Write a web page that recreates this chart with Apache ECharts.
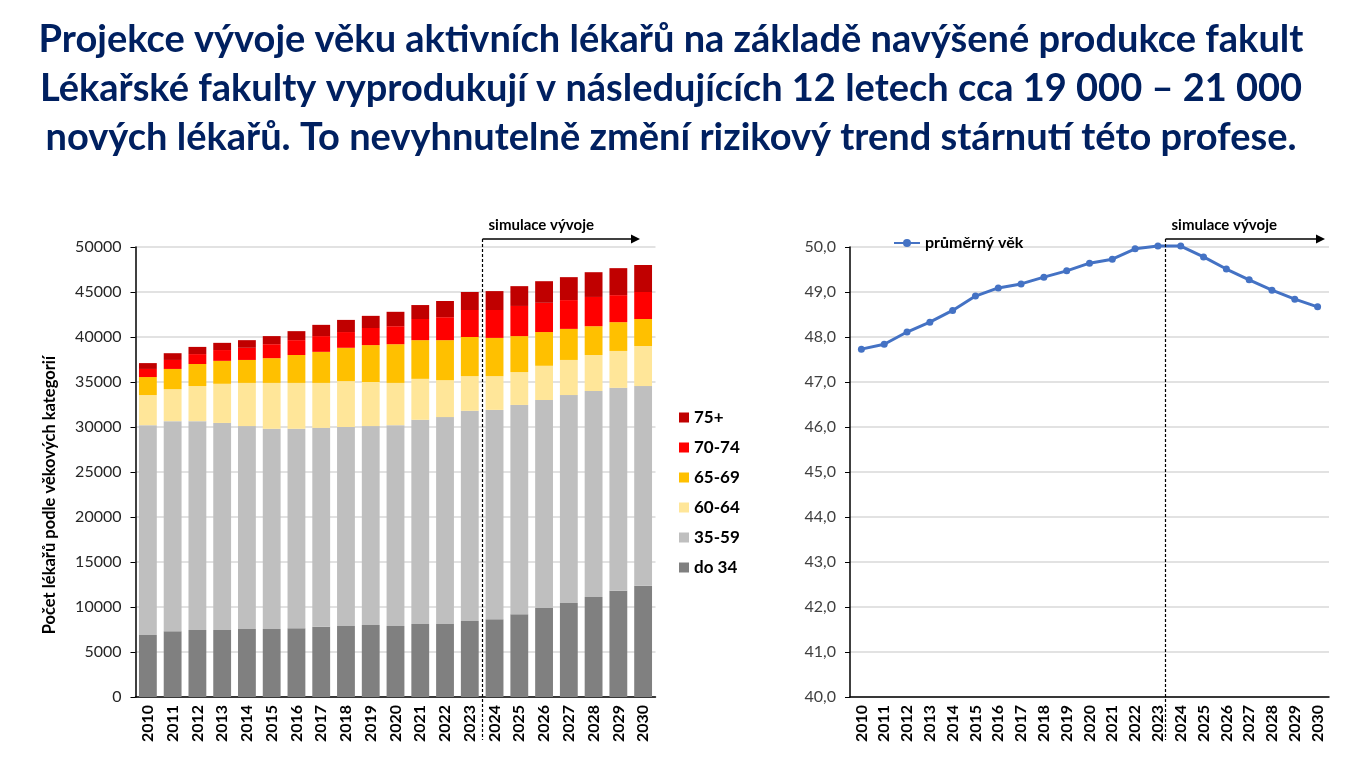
<!DOCTYPE html>
<html>
<head>
<meta charset="utf-8">
<script src="https://cdn.jsdelivr.net/npm/echarts@6/dist/echarts.min.js"></script>
<style>
html,body{margin:0;padding:0;background:#fff;}
#c{width:1368px;height:770px;}
</style>
</head>
<body>
<div id="c"></div>
<script>
const years = ['2010','2011','2012','2013','2014','2015','2016','2017','2018','2019','2020','2021','2022','2023','2024','2025','2026','2027','2028','2029','2030'];
const do34   = [6900,7300,7450,7450,7550,7550,7650,7800,7900,8000,7900,8100,8100,8450,8650,9200,9900,10450,11100,11800,12350];
const a35_59 = [23300,23350,23200,23000,22550,22250,22150,22100,22100,22100,22300,22700,23000,23350,23250,23250,23100,23100,22900,22550,22200];
const a60_64 = [3350,3550,3900,4350,4800,5100,5100,5000,5100,4900,4700,4550,4100,3850,3750,3650,3800,3900,4000,4100,4450];
const a65_69 = [2000,2250,2450,2550,2550,2750,3100,3450,3700,4100,4300,4300,4450,4350,4250,4000,3750,3450,3200,3200,3000];
const a70_74 = [900,1000,1100,1200,1350,1550,1650,1750,1750,1900,2000,2350,2550,3000,3100,3350,3250,3200,3250,3000,3000];
const a75    = [650,750,800,800,850,900,1000,1250,1350,1350,1600,1550,1800,2000,2100,2200,2400,2550,2750,3000,3000];
const avgAge = [47.73,47.84,48.11,48.33,48.59,48.91,49.09,49.18,49.33,49.47,49.64,49.73,49.96,50.02,50.02,49.78,49.51,49.27,49.04,48.84,48.67];
const leftTicks = {min:0, max:50000, interval:5000};
const rightTicks = {min:40, max:50, interval:1};
const titleLines = [
  'Projekce vývoje věku aktivních lékařů na základě navýšené produkce fakult',
  'Lékařské fakulty vyprodukují v následujících 12 letech cca 19 000 – 21 000',
  'nových lékařů. To nevyhnutelně změní rizikový trend stárnutí této profese.'
];

const FONT = 'Lato, "Open Sans", sans-serif';
const chart = echarts.init(document.getElementById('c'), null, {renderer:'canvas'});

const barNames = ['do 34','35-59','60-64','65-69','70-74','75+'];
const barData = [do34, a35_59, a60_64, a65_69, a70_74, a75];
const barColors = ['#808080','#bfbfbf','#ffe699','#ffc000','#ff0000','#c00000'];

const xLabel = {rotate:90, interval:0, fontWeight:'bold', fontSize:16, color:'#000', fontFamily:FONT, margin:8};

const option = {
  animation:false,
  backgroundColor:'#fff',
  textStyle:{fontFamily:FONT},
  legend:[
    {data:barNames.slice().reverse(), orient:'vertical', left:674, top:404, itemWidth:10, itemHeight:10, itemGap:13, icon:'rect',
     textStyle:{fontWeight:'bold', fontSize:17, lineHeight:17, color:'#000', fontFamily:FONT}, selectedMode:false},
    {data:['průměrný věk'], left:888, top:230, itemWidth:26, itemHeight:10, itemGap:6, selectedMode:false,
     textStyle:{fontWeight:'bold', fontSize:16, color:'#000', fontFamily:FONT}}
  ],
  grid:[
    {left:135.5, right:712.5, top:247, bottom:73},
    {left:850, right:39, top:247, bottom:73}
  ],
  xAxis:[
    {type:'category', data:years, gridIndex:0, axisLine:{lineStyle:{color:'#000', width:1.5}}, axisTick:{show:false}, axisLabel:xLabel},
    {type:'category', data:years, gridIndex:1, axisLine:{lineStyle:{color:'#000', width:1.5}}, axisTick:{show:false}, axisLabel:xLabel}
  ],
  yAxis:[
    {type:'value', gridIndex:0, min:leftTicks.min, max:leftTicks.max, interval:leftTicks.interval,
     axisLine:{show:true, lineStyle:{color:'#000', width:1.5}}, axisTick:{show:true, length:5, lineStyle:{color:'#000'}},
     splitLine:{lineStyle:{color:'#d9d9d9', width:1.5}},
     axisLabel:{fontSize:16, color:'#262626', fontFamily:FONT, margin:14, formatter:v=>String(v)}},
    {type:'value', gridIndex:1, min:rightTicks.min, max:rightTicks.max, interval:rightTicks.interval,
     axisLine:{show:true, lineStyle:{color:'#000', width:1.5}}, axisTick:{show:true, length:5, lineStyle:{color:'#000'}},
     splitLine:{lineStyle:{color:'#d9d9d9', width:1.5}},
     axisLabel:{fontSize:16, color:'#404040', fontFamily:FONT, margin:14, formatter:v=>v.toFixed(1).replace('.',',')}}
  ],
  series: barNames.map((n,i)=>({
    name:n, type:'bar', stack:'a', xAxisIndex:0, yAxisIndex:0, data:barData[i],
    barCategoryGap:'28%', itemStyle:{color:barColors[i]}
  })).concat([{
    name:'průměrný věk', type:'line', xAxisIndex:1, yAxisIndex:1, data:avgAge, clip:false,
    symbol:'circle', symbolSize:7, itemStyle:{color:'#4472c4'}, lineStyle:{color:'#4472c4', width:3}
  }])
};
chart.setOption(option);

function annot(axisIdx, arrowEnd, dx){
  const xa = chart.convertToPixel({xAxisIndex:axisIdx}, '2023');
  const xb = chart.convertToPixel({xAxisIndex:axisIdx}, '2024');
  const xd = Math.round((xa+xb)/2 + dx)+0.5;
  const yTop = 239, yBot = 740;
  return [
    {type:'line', shape:{x1:xd, y1:yTop, x2:xd, y2:yBot}, style:{stroke:'#000', lineWidth:1.2, lineDash:[3,2]}, z:100},
    {type:'line', shape:{x1:xd, y1:yTop, x2:arrowEnd-8, y2:yTop}, style:{stroke:'#000', lineWidth:1.5}, z:100},
    {type:'polygon', shape:{points:[[arrowEnd-9,yTop-4.5],[arrowEnd,yTop],[arrowEnd-9,yTop+4.5]]}, style:{fill:'#000'}, z:100},
    {type:'text', x:xd+6, y:225, style:{text:'simulace vývoje', font:'bold 15px '+FONT, fill:'#000', verticalAlign:'middle', align:'left'}, z:100}
  ];
}
const g = annot(0, 640, 0).concat(annot(1, 1325, -4));
g.push({type:'text', x:50, y:495, rotation:Math.PI/2,
  style:{text:'Počet lékařů podle věkových kategorií', font:'bold 16.5px '+FONT, fill:'#000', align:'center', verticalAlign:'middle'}});
titleLines.forEach((t,i)=>{
  g.push({type:'text', x:671, y:40+i*49, style:{text:t, font:'bold 38px '+FONT, fill:'#002060', align:'center', verticalAlign:'middle'}});
});
chart.setOption({graphic:g});
</script>
</body>
</html>
